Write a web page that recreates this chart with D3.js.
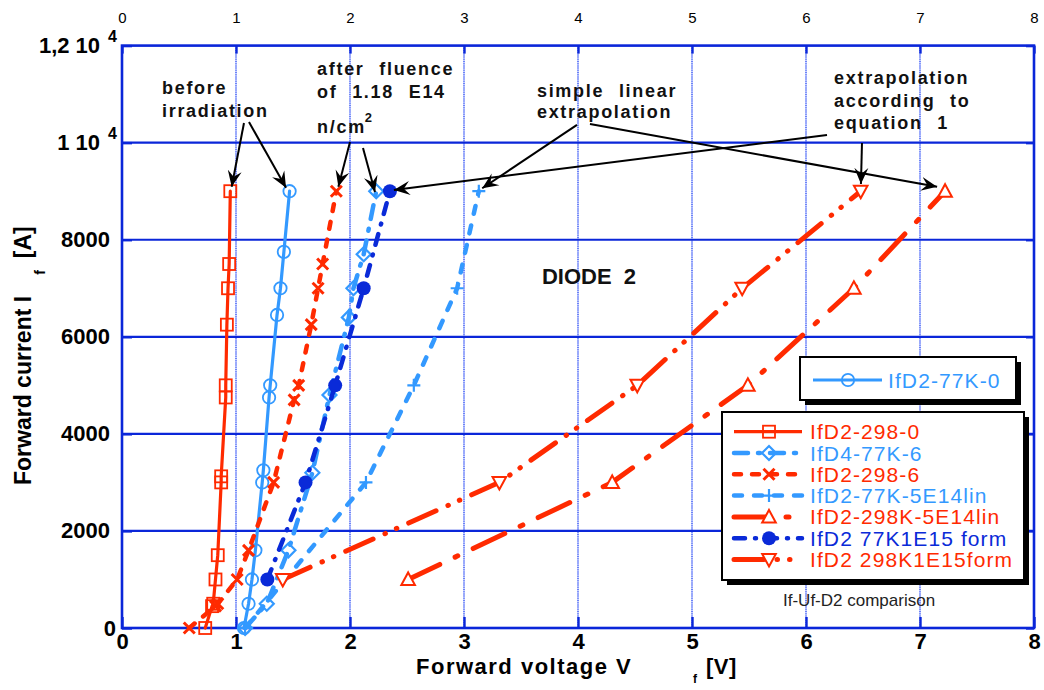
<!DOCTYPE html>
<html><head><meta charset="utf-8">
<script src="https://cdn.jsdelivr.net/npm/d3@7"></script>
<style>
body{margin:0;background:#fff;}
svg text{font-family:"Liberation Sans", Arial, Helvetica, sans-serif;}
</style></head><body>
<svg id="chart" width="1044" height="690"></svg>
<script>
// ---------- data (forward current I [A], forward voltage V [V]) ----------
const currentTicks = [0, 2000, 4000, 6000, 8000, 10000, 12000];
const voltageTicks = [0, 1, 2, 3, 4, 5, 6, 7, 8];

const I_298_0 = [0, 450, 500, 1000, 1500, 3000, 3125, 4750, 5000, 6250, 7000, 7500, 9000];
const V_298_0 = [0.73, 0.79, 0.80, 0.82, 0.84, 0.87, 0.87, 0.91, 0.91, 0.92, 0.93, 0.94, 0.95];

const I_77K_0 = [0, 500, 1000, 1600, 3000, 3250, 4750, 5000, 6450, 7000, 7750, 9000];
const V_77K_0 = [1.07, 1.11, 1.14, 1.17, 1.23, 1.24, 1.29, 1.30, 1.36, 1.39, 1.42, 1.47];

const I_77K_6 = [0, 500, 1600, 3200, 4800, 6400, 7000, 7700, 9000];
const V_77K_6 = [1.08, 1.27, 1.46, 1.67, 1.82, 1.99, 2.03, 2.12, 2.23];

const I_298_6 = [0, 450, 500, 1000, 1600, 3000, 4700, 5000, 6250, 7000, 7500, 9000];
const V_298_6 = [0.59, 0.82, 0.84, 1.01, 1.11, 1.33, 1.51, 1.55, 1.66, 1.72, 1.76, 1.88];

const I_77K_5E14 = [0, 3000, 5000, 7000, 9000];
const V_77K_5E14 = [1.08, 2.14, 2.56, 2.94, 3.13];

const I_298K_5E14 = [1000, 3000, 5000, 7000, 9000];
const V_298K_5E14 = [2.51, 4.30, 5.49, 6.42, 7.22];

const I_77K_1E15 = [1000, 3000, 5000, 7000, 9000];
const V_77K_1E15 = [1.275, 1.61, 1.87, 2.12, 2.35];

const I_298K_1E15 = [1000, 3000, 5000, 7000, 9000];
const V_298K_1E15 = [1.41, 3.31, 4.52, 5.44, 6.48];

// ---------- styles ----------
const RED = "#ff2a00", LBLUE = "#3399ff", DBLUE = "#0a2ad8", GRID = "#0a26d9";

const series = [
  {name:"IfD2-77K-0",        I:I_77K_0,     V:V_77K_0,     color:LBLUE, w:3.2, dash:null,               marker:"circle"},
  {name:"IfD2-298-0",        I:I_298_0,     V:V_298_0,     color:RED,   w:3.2, dash:null,               marker:"square"},
  {name:"IfD4-77K-6",        I:I_77K_6,     V:V_77K_6,     color:LBLUE, w:4.5, dash:"14,10,2,10",       marker:"diamond"},
  {name:"IfD2-298-6",        I:I_298_6,     V:V_298_6,     color:RED,   w:4.5, dash:"7,11",             marker:"x"},
  {name:"IfD2-77K-5E14lin",  I:I_77K_5E14,  V:V_77K_5E14,  color:LBLUE, w:4.5, dash:"8,12",             marker:"plus"},
  {name:"IfD2-298K-5E14lin", I:I_298K_5E14, V:V_298K_5E14, color:RED,   w:5,   dash:"35,17,3,17",       marker:"triUp"},
  {name:"IfD2 77K1E15 form", I:I_77K_1E15,  V:V_77K_1E15,  color:DBLUE, w:4.5, dash:"11,10,1,10",       marker:"dot"},
  {name:"IfD2 298K1E15form", I:I_298K_1E15, V:V_298K_1E15, color:RED,   w:5,   dash:"30,13,0.5,12,0.5,13", marker:"triDown"}
];
const legend1Names = ["IfD2-77K-0"];
const legend2Names = ["IfD2-298-0","IfD4-77K-6","IfD2-298-6","IfD2-77K-5E14lin","IfD2-298K-5E14lin","IfD2 77K1E15 form","IfD2 298K1E15form"];

// annotations in data units (V, I)
const notes = [
  {lines:["before","irradiation"], at:[0.351, 11003], step:-474},
  {lines:["after fluence","of 1.18 E14"], at:[1.711, 11394], step:-467},
  {lines:["simple linear","extrapolation"], at:[3.640, 10947], step:-445},
  {lines:["extrapolation","according to","equation 1"], at:[6.246, 11209], step:-467}
];
const arrows = [
  {from:[1.070,10406], to:[0.962,9093]},
  {from:[1.114,10426], to:[1.439,9070]},
  {from:[2.000,10014], to:[1.898,9093]},
  {from:[2.114,9891],  to:[2.219,8984]},
  {from:[3.991,10365], to:[3.160,9060]},
  {from:[4.105,10385], to:[7.150,9090]},
  {from:[6.184,10159], to:[2.385,9025]},
  {from:[6.491,9994],  to:[6.482,9150]}
];

// ---------- scales ----------
const svg = d3.select("#chart");
const x = d3.scaleLinear().domain([0, 8]).range([122, 1034]);
const y = d3.scaleLinear().domain([0, 12000]).range([628, 45.6]);
const FONT = "Liberation Sans, Arial, Helvetica, sans-serif";

// ---------- grid ----------
const gGrid = svg.append("g");
gGrid.selectAll("line.vl").data(voltageTicks.slice(1, -1)).join("line")
  .attr("x1", d => x(d)).attr("x2", d => x(d)).attr("y1", y(12000)).attr("y2", y(0))
  .attr("stroke", "#c9d2ff").attr("stroke-width", 2);
gGrid.selectAll("line.vd").data(voltageTicks.slice(1, -1)).join("line")
  .attr("x1", d => x(d)).attr("x2", d => x(d)).attr("y1", y(12000)).attr("y2", y(0))
  .attr("stroke", "#2f4ff0").attr("stroke-width", 1.2).attr("stroke-dasharray", "1,1.2");
gGrid.selectAll("line.h").data(currentTicks.slice(1, -1)).join("line")
  .attr("x1", x(0)).attr("x2", x(8)).attr("y1", d => y(d)).attr("y2", d => y(d))
  .attr("stroke", GRID).attr("stroke-width", 2.2);

// ---------- axes ----------
function styleAxis(g, size, weight) {
  g.attr("font-family", FONT).attr("font-size", size);
  g.select(".domain").remove();
  g.selectAll(".tick line").attr("stroke", GRID).attr("stroke-width", 2.4);
  g.selectAll(".tick text").attr("fill", "#000").attr("font-weight", weight);
}
const gB = svg.append("g").attr("transform", `translate(0,${y(0)})`)
  .call(d3.axisBottom(x).tickValues(voltageTicks).tickSizeInner(-11).tickSizeOuter(0).tickPadding(5).tickFormat(d3.format("d")));
styleAxis(gB, 22, "bold");
const gT = svg.append("g").attr("transform", `translate(0,${y(12000)})`)
  .call(d3.axisTop(x).tickValues(voltageTicks).tickSizeInner(-8).tickSizeOuter(0).tickPadding(23).tickFormat(d3.format("d")));
styleAxis(gT, 15, "normal");
const gL = svg.append("g").attr("transform", `translate(${x(0)},0)`)
  .call(d3.axisLeft(y).tickValues(currentTicks).tickSizeInner(-10).tickSizeOuter(0).tickPadding(12)
    .tickFormat(d => d === 10000 ? "1 10" : d === 12000 ? "1,2 10" : String(d)));
styleAxis(gL, 22, "bold");
gL.selectAll(".tick text").each(function(d) {
  const t = d3.select(this);
  if (d === 0) t.attr("x", -6);
  if (d >= 10000) {
    t.attr("x", -5);
    t.append("tspan").attr("dx", 8).attr("dy", -11).attr("font-size", 16).text("4");
  }
});
const gR = svg.append("g").attr("transform", `translate(${x(8)},0)`)
  .call(d3.axisRight(y).tickValues(currentTicks).tickSizeInner(-8).tickSizeOuter(0).tickFormat(""));
styleAxis(gR, 10, "normal");

// frame
svg.append("rect").attr("x", x(0)).attr("y", y(12000)).attr("width", x(8) - x(0)).attr("height", y(0) - y(12000))
  .attr("fill", "none").attr("stroke", GRID).attr("stroke-width", 2.6);

// ---------- markers ----------
function marker(g, type, cx, cy, color) {
  const m = g.append("g").attr("transform", `translate(${cx},${cy})`);
  switch (type) {
    case "square": m.append("rect").attr("x", -6).attr("y", -6).attr("width", 12).attr("height", 12)
      .attr("fill", "none").attr("stroke", color).attr("stroke-width", 1.8); break;
    case "circle": m.append("circle").attr("r", 6.2).attr("fill", "none").attr("stroke", color).attr("stroke-width", 1.8); break;
    case "diamond": m.append("path").attr("d", "M0,-7L7,0L0,7L-7,0Z").attr("fill", "none").attr("stroke", color).attr("stroke-width", 2.2); break;
    case "x": m.append("path").attr("d", "M-5.5,-5.5L5.5,5.5M-5.5,5.5L5.5,-5.5").attr("stroke", color).attr("stroke-width", 3); break;
    case "plus": m.append("path").attr("d", "M-6.5,0H6.5M0,-6.5V6.5").attr("stroke", color).attr("stroke-width", 2.2); break;
    case "triUp": m.append("path").attr("d", "M0,-7L6.8,5.5L-6.8,5.5Z").attr("fill", "#fff").attr("stroke", color).attr("stroke-width", 2); break;
    case "triDown": m.append("path").attr("d", "M0,7L6.8,-5.5L-6.8,-5.5Z").attr("fill", "#fff").attr("stroke", color).attr("stroke-width", 2); break;
    case "dot": m.append("circle").attr("r", 7).attr("fill", color); break;
  }
}

// ---------- series ----------
const line = d3.line().x(d => x(d[0])).y(d => y(d[1]));
const gS = svg.append("g");
series.forEach(s => {
  const pts = s.V.map((v, i) => [v, s.I[i]]);
  gS.append("path").attr("d", line(pts)).attr("fill", "none").attr("stroke", s.color)
    .attr("stroke-width", s.w).attr("stroke-linecap", "round").attr("stroke-linejoin", "round")
    .attr("stroke-dasharray", s.dash);
  pts.forEach(p => marker(gS, s.marker, x(p[0]), y(p[1]), s.color));
});

// ---------- annotations ----------
const defs = svg.append("defs");
defs.append("marker").attr("id", "ah").attr("viewBox", "-16 -8 18 16").attr("refX", 0).attr("refY", 0)
  .attr("markerWidth", 18).attr("markerHeight", 16).attr("markerUnits", "userSpaceOnUse").attr("orient", "auto")
  .append("path").attr("d", "M0,0L-16,-7L-10,0L-16,7Z").attr("fill", "#000");
const gA = svg.append("g");
arrows.forEach(a => {
  gA.append("line").attr("x1", x(a.from[0])).attr("y1", y(a.from[1])).attr("x2", x(a.to[0])).attr("y2", y(a.to[1]))
    .attr("stroke", "#000").attr("stroke-width", 2).attr("marker-end", "url(#ah)");
});
notes.forEach(n => {
  n.lines.forEach((t, k) => {
    gA.append("text").attr("x", x(n.at[0])).attr("y", y(n.at[1] + k * n.step))
      .attr("font-family", FONT).attr("font-size", 18).attr("font-weight", "bold")
      .attr("letter-spacing", 1.7).attr("word-spacing", 8).attr("fill", "#111").text(t);
  });
});
// n/cm2
const nc = gA.append("text").attr("x", x(1.711)).attr("y", y(10199))
  .attr("font-family", FONT).attr("font-size", 18).attr("font-weight", "bold").attr("letter-spacing", 1.7).attr("fill", "#111").text("n/cm");
nc.append("tspan").attr("dy", -11).attr("dx", -1).attr("font-size", 13).text("2");
// DIODE 2
gA.append("text").attr("x", x(3.684)).attr("y", y(7082)).attr("font-family", FONT).attr("font-size", 22)
  .attr("font-weight", "bold").attr("fill", "#111").attr("xml:space", "preserve").style("white-space", "pre").text("DIODE  2");

// ---------- axis titles ----------
const xt = svg.append("text").attr("x", 416).attr("y", 674).attr("font-family", FONT).attr("font-size", 22)
  .attr("font-weight", "bold").attr("letter-spacing", 1.5).attr("fill", "#000").text("Forward voltage V");
xt.append("tspan").attr("x", 693).attr("dy", 9).attr("font-size", 12).text("f");
xt.append("tspan").attr("x", 706).attr("dy", -9).attr("letter-spacing", 0.5).text("[V]");
const yt = svg.append("text").attr("transform", "translate(31,485) rotate(-90)").attr("font-family", FONT)
  .attr("font-size", 23).attr("font-weight", "bold").attr("fill", "#000").text("Forward current I");
yt.append("tspan").attr("dx", 21).attr("dy", 14).attr("font-size", 14).text("f");
yt.append("tspan").attr("dx", 12).attr("dy", -14).text("[A]");

// ---------- legends ----------
function legendBox(x0, y0, w, h) {
  svg.append("rect").attr("x", x0 + 5).attr("y", y0 + 5).attr("width", w).attr("height", h).attr("fill", "#000");
  svg.append("rect").attr("x", x0).attr("y", y0).attr("width", w).attr("height", h).attr("fill", "#fff")
    .attr("stroke", "#000").attr("stroke-width", 2);
}
function legendRow(s, lx0, lx1, mx, tx, cy) {
  svg.append("line").attr("x1", lx0).attr("x2", lx1).attr("y1", cy).attr("y2", cy)
    .attr("stroke", s.color).attr("stroke-width", s.w).attr("stroke-linecap", s.dash ? "round" : "butt")
    .attr("stroke-dasharray", s.dash);
  marker(svg, s.marker, mx, cy, s.color);
  svg.append("text").attr("x", tx).attr("y", cy + 7.5).attr("font-family", FONT).attr("font-size", 21)
    .attr("letter-spacing", 1.1).attr("fill", s.color).text(s.name);
}
legendBox(800, 357, 216, 43);
legend1Names.forEach(nm => legendRow(series.find(s => s.name === nm), 813, 882, 848, 888, 380));
legendBox(722, 412, 302, 168);
legend2Names.forEach((nm, k) => legendRow(series.find(s => s.name === nm), 734, 802, 769, 810, 431.7 + k * 21.3));

svg.append("text").attr("x", 783).attr("y", 606).attr("font-family", FONT).attr("font-size", 17)
  .attr("fill", "#222").text("If-Uf-D2 comparison");
</script>
</body></html>
